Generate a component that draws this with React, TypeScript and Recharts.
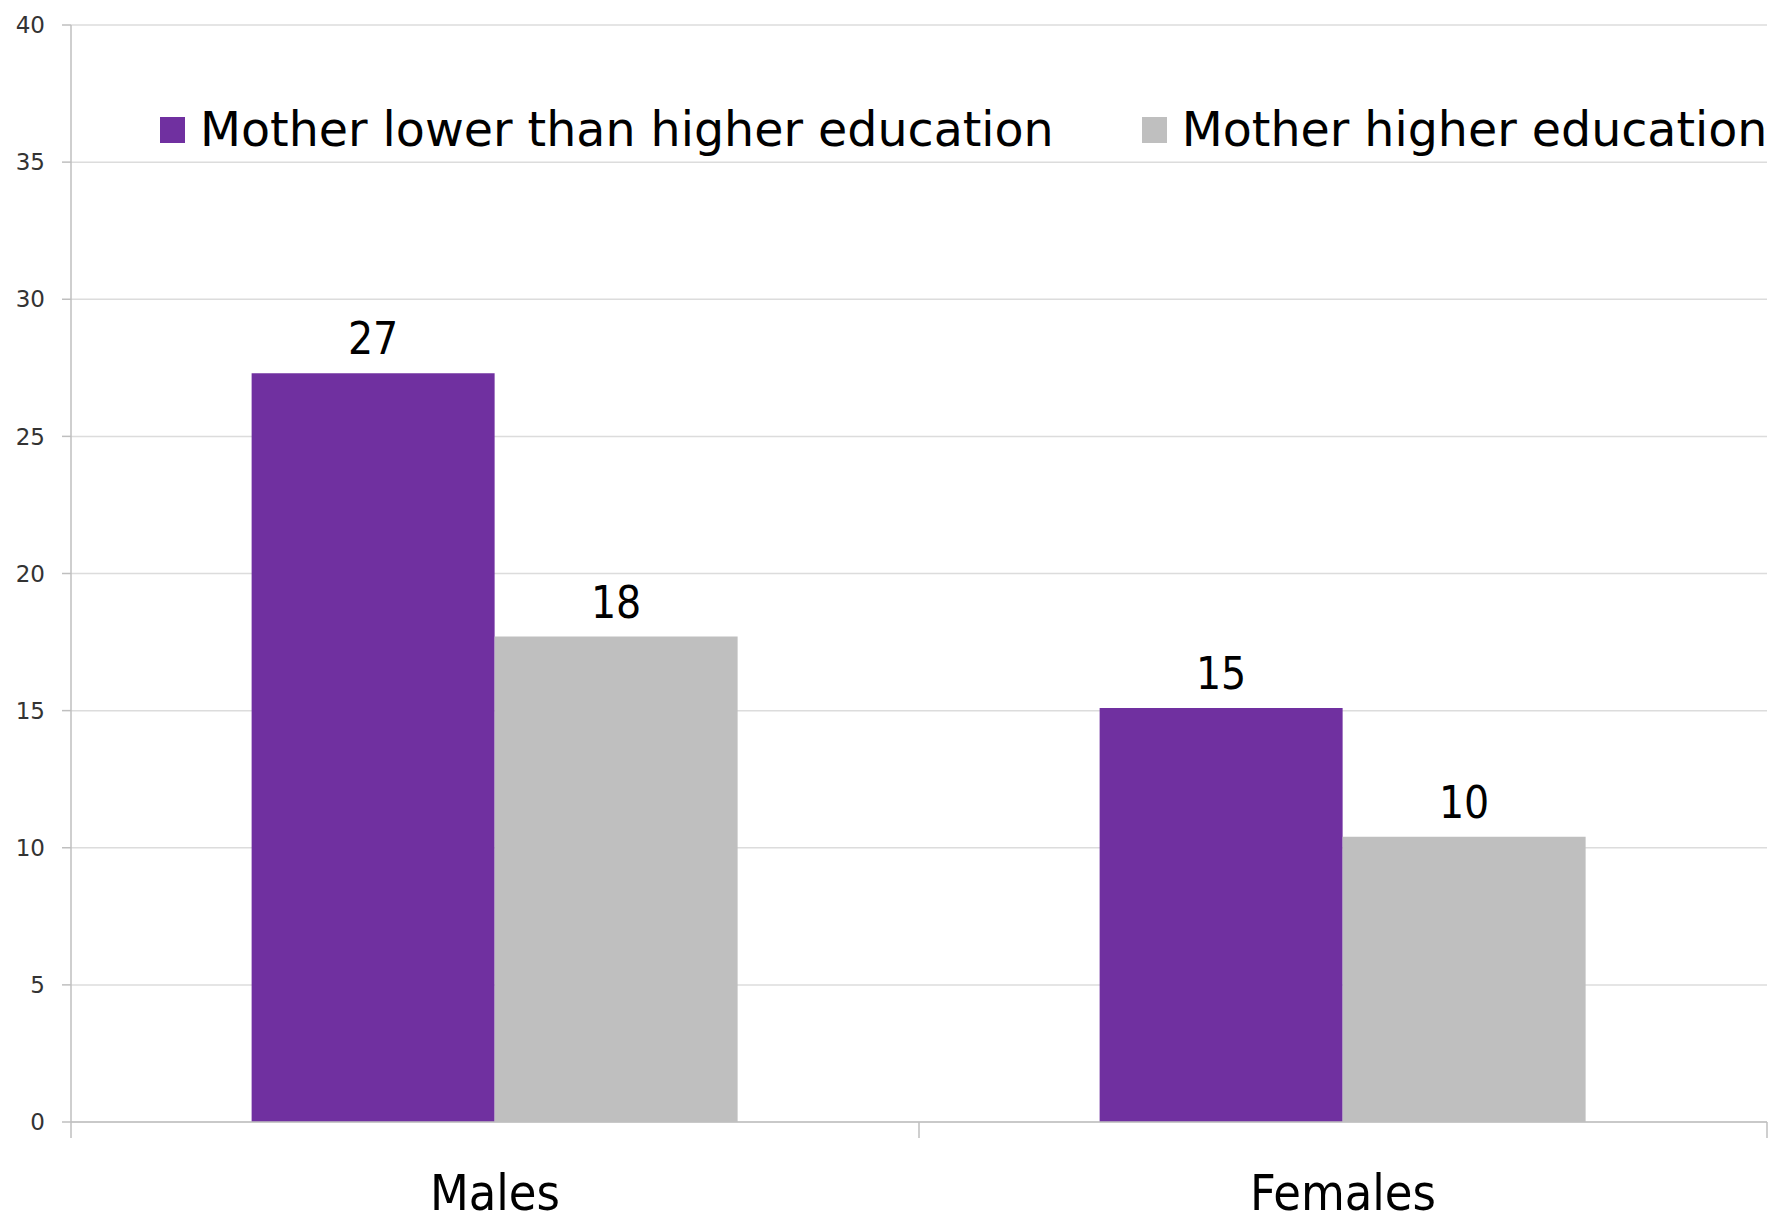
import { BarChart, Bar, XAxis, YAxis, CartesianGrid, LabelList } from "recharts";

const groups = ["Males", "Females"];
const lowerEducation = [27.3, 15.1];
const higherEducation = [17.7, 10.4];
const yTicks = [0, 5, 10, 15, 20, 25, 30, 35, 40];

const seriesNames = ["Mother lower than higher education", "Mother higher education"];
const seriesColors = ["#7030a0", "#bfbfbf"];

const data = groups.map((g, i) => ({
  group: g,
  lower: lowerEducation[i],
  higher: higherEducation[i],
}));

const WIDTH = 1778;
const HEIGHT = 1222;
const AXIS_W = 71;
const MARGIN = { top: 25, right: 11, bottom: 0, left: 0 };
const PLOT_W = WIDTH - AXIS_W - MARGIN.right;
const BAND = PLOT_W / groups.length;

const condensed = "'DejaVu Sans Condensed', 'DejaVu Sans', sans-serif";
const regular = "'DejaVu Sans', sans-serif";

// category label plus separator ticks at the band edges
function GroupTick(props: any) {
  const { x, y, payload, index } = props;
  const left = x - BAND / 2;
  const right = x + BAND / 2;
  return (
    <g>
      <line x1={left} y1={y} x2={left} y2={y + 16} stroke="#bfbfbf" strokeWidth={1.5} />
      {index === groups.length - 1 && (
        <line x1={right} y1={y} x2={right} y2={y + 16} stroke="#bfbfbf" strokeWidth={1.5} />
      )}
      <text x={x} y={y + 88} textAnchor="middle" fontFamily={condensed} fontSize={50} fill="#000">
        {payload.value}
      </text>
    </g>
  );
}

function ValueLabel(props: any) {
  const { x, y, width, value } = props;
  return (
    <text x={x + width / 2} y={y - 19} textAnchor="middle" fontFamily={condensed} fontSize={44} fill="#000">
      {Math.round(value)}
    </text>
  );
}

function LegendBox() {
  return (
    <div
      style={{
        position: "absolute",
        top: 106,
        left: 160,
        display: "flex",
        alignItems: "center",
        gap: 88,
      }}
    >
      {seriesNames.map((name, i) => (
        <div key={name} style={{ display: "flex", alignItems: "center", gap: 15 }}>
          <div style={{ width: 25, height: 26, background: seriesColors[i] }} />
          <span style={{ fontFamily: regular, fontSize: 47.5, color: "#000", whiteSpace: "nowrap", lineHeight: 1 }}>
            {name}
          </span>
        </div>
      ))}
    </div>
  );
}

export default function App() {
  return (
    <div style={{ position: "absolute", left: 0, top: 0, width: WIDTH, height: HEIGHT, background: "#fff", overflow: "hidden" }}>
      <BarChart width={WIDTH} height={HEIGHT} data={data} margin={MARGIN} barCategoryGap="21.3%" barGap={0}>
        <CartesianGrid vertical={false} stroke="#dcdcdc" strokeWidth={1.5} />
        <XAxis
          dataKey="group"
          height={100}
          axisLine={{ stroke: "#bfbfbf", strokeWidth: 1.5 }}
          tickLine={false}
          tickSize={0}
          tickMargin={0}
          tick={<GroupTick />}
          interval={0}
        />
        <YAxis
          width={AXIS_W}
          domain={[0, 40]}
          ticks={yTicks}
          interval={0}
          axisLine={{ stroke: "#bfbfbf", strokeWidth: 1.5 }}
          tickLine={{ stroke: "#bfbfbf", strokeWidth: 1.5 }}
          tickSize={9}
          tickMargin={17}
          tick={{ fontFamily: regular, fontSize: 23, fill: "#333" }}
        />
        <Bar dataKey="lower" name={seriesNames[0]} fill={seriesColors[0]} isAnimationActive={false}>
          <LabelList dataKey="lower" content={<ValueLabel />} />
        </Bar>
        <Bar dataKey="higher" name={seriesNames[1]} fill={seriesColors[1]} isAnimationActive={false}>
          <LabelList dataKey="higher" content={<ValueLabel />} />
        </Bar>
      </BarChart>
      <LegendBox />
    </div>
  );
}
